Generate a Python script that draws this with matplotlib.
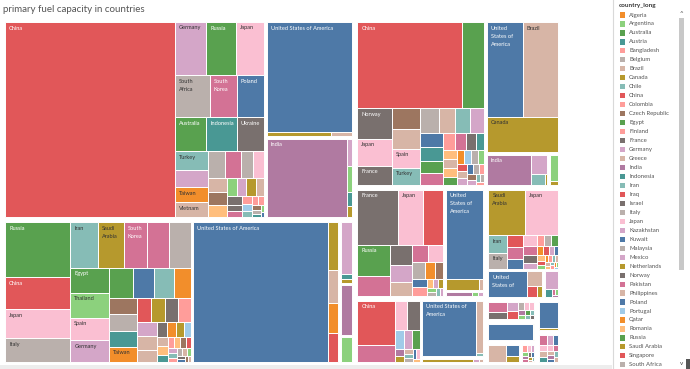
import matplotlib
matplotlib.use("Agg")
import matplotlib.pyplot as plt
from matplotlib.patches import Rectangle
from matplotlib.font_manager import FontProperties

plt.rcParams['font.family'] = ['Lato', 'DejaVu Sans']

# ---------------- data (capacity) ----------------
coal_main_countries = ["China", "Germany", "Russia", "Japan", "South Africa", "South Korea", "Poland",
                       "Australia", "Indonesia", "Ukraine", "Turkey", "Kazakhstan", "Taiwan", "Vietnam",
                       "Malaysia", "Pakistan", "Italy", "Spain", "Philippines", "Czech Republic", "Romania",
                       "Thailand", "Mexico", "Netherlands", "Greece", "Israel", "Zimbabwe", "United Kingdom",
                       "Bangladesh", "Portugal", "Chile", "Colombia", "Finland", "Uzbekistan", "Belgium",
                       "Austria", "Argentina", "Sri Lanka"]
coal_main_values = [32800, 1643, 1537, 1484, 1428, 1134, 1130, 1050, 1040, 918, 608, 544, 482, 480,
                    459, 432, 324, 297, 270, 250, 240, 170, 168, 165, 150, 120, 95, 85, 75, 65, 60, 55,
                    50, 45, 35, 30, 25, 17]
coal_us_countries = ["United States of America", "Canada", "Brazil"]
coal_us_values = [9592, 264, 88]
coal_india_countries = ["India", "Germany", "Argentina", "Indonesia", "Netherlands"]
coal_india_values = [6480, 150, 140, 80, 60]

gas_main_countries = ["Russia", "China", "Japan", "Italy", "Iran", "Saudi Arabia", "South Korea", "Pakistan",
                      "Malaysia", "Egypt", "Thailand", "Spain", "Germany", "Australia", "Kuwait", "Turkey",
                      "Algeria", "Uzbekistan", "South Africa", "Indonesia", "Taiwan", "Iraq", "Netherlands",
                      "Israel", "Bangladesh", "Mexico", "Philippines", "Vietnam", "Ukraine", "Qatar",
                      "Turkmenistan", "Portugal", "Greece", "Romania", "Austria", "Colombia", "Syria",
                      "Switzerland", "Singapore", "Kazakhstan", "Chile", "Finland", "Belgium",
                      "Tajikistan", "Argentina", "Norway", "Poland", "Czech Republic", "Sweden"]
gas_main_values = [3600, 2100, 1885, 1560, 1260, 1170, 1080, 995, 990, 985, 980, 880, 850, 720, 630, 600,
                   510, 460, 450, 440, 430, 330, 325, 320, 300, 285, 266, 247, 160, 144, 117, 110, 100,
                   90, 80, 70, 60, 60, 55, 50, 45, 40, 40, 35, 30, 25, 20, 20, 15]
gas_us_countries = ["United States of America", "Canada", "Brazil", "Algeria", "Venezuela"]
gas_us_values = [19000, 480, 320, 300, 290]
gas_mexico_countries = ["Mexico", "Indonesia", "Netherlands"]
gas_mexico_values = [750, 64, 56]
gas_india_countries = ["India"]
gas_india_values = [720]
gas_argentina_countries = ["Argentina"]
gas_argentina_values = [375]

hydro_main_countries = ["China", "Russia", "Norway", "Japan", "France", "Switzerland", "Tajikistan", "Spain",
                        "Turkey", "Malaysia", "Vietnam", "Iran", "Mexico", "Sri Lanka", "Austria",
                        "Australia", "Pakistan", "Colombia", "South Korea", "Ukraine", "Indonesia", "Syria",
                        "Philippines", "Romania", "Egypt", "Taiwan", "Portugal", "Italy", "Argentina",
                        "Iraq", "Greece", "Germany", "Poland", "South Africa", "Finland",
                        "Czech Republic", "Kazakhstan", "Chile", "Belgium", "Bangladesh"]
hydro_main_values = [9100, 1900, 1056, 924, 660, 594, 567, 540, 480, 475, 425, 375, 350, 330, 329, 286,
                     264, 208, 176, 160, 144, 130, 125, 120, 115, 110, 100, 95, 90, 80, 75, 70, 65, 60,
                     55, 45, 40, 35, 30, 25]
hydro_us_countries = ["United States of America", "Brazil", "Canada"]
hydro_us_values = [3480, 3450, 2600]
hydro_india_countries = ["India", "Germany", "Chile", "Netherlands"]
hydro_india_values = [1450, 360, 175, 25]
hydro_other_countries = ["Argentina", "Turkmenistan"]
hydro_other_values = [290, 45]

nuclear_main_countries = ["France", "Japan", "China", "Russia", "South Korea", "Ukraine", "Germany",
                          "Sweden", "Pakistan", "Spain", "Belgium", "Taiwan", "Czech Republic",
                          "United Arab Emirates", "Finland", "Romania", "Mexico", "Netherlands",
                          "Argentina", "South Africa", "Iran", "Kazakhstan"]
nuclear_main_values = [2300, 1450, 1160, 1056, 672, 462, 396, 300, 285, 280, 230, 170, 140, 130, 128,
                       60, 50, 45, 40, 35, 30, 25]
nuclear_us_countries = ["United States of America", "Canada", "Brazil"]
nuclear_us_values = [3650, 385, 55]
nuclear_india_countries = ["India", "Argentina", "Mexico"]
nuclear_india_values = [160, 36, 30]

wind_main_countries = ["China", "United Kingdom", "Spain", "France", "Portugal", "Germany", "Australia",
                       "India", "Netherlands", "Sweden", "Turkey", "Italy", "Poland", "Japan", "Romania"]
wind_main_values = [1832, 680, 397, 393, 177, 166, 158, 63, 57, 51, 44, 38, 36, 32, 25]
wind_us_countries = ["United States of America", "Brazil", "Chile"]
wind_us_values = [3292, 413, 24]
wind_other_countries = ["Canada", "Mexico", "Philippines"]
wind_other_values = [305, 36, 30]

oil_main_countries = ["Saudi Arabia", "Japan", "Iran", "Italy", "Iraq", "Pakistan", "Kuwait", "Spain",
                      "South Korea", "Israel", "Mexico", "Bangladesh", "Malaysia", "Egypt", "Algeria",
                      "Singapore", "Kazakhstan", "Poland", "Syria", "Venezuela", "Argentina", "Qatar",
                      "Colombia", "Chile", "Greece", "Philippines", "Romania", "Turkey", "Finland",
                      "Taiwan", "Thailand", "Portugal"]
oil_main_values = [1770, 1610, 337, 318, 216, 200, 177, 172, 137, 112, 92, 80, 79, 73, 62, 57, 52, 47,
                   42, 36, 31, 26, 26, 21, 21, 21, 16, 16, 16, 10, 10, 10]
oil_us_countries = ["United States of America", "Brazil", "Venezuela", "Canada"]
oil_us_values = [1145, 248, 122, 68]
oil_other_countries = ["Mexico", "Indonesia", "Pakistan", "Argentina", "India"]
oil_other_values = [312, 71, 23, 21, 19]

solar_countries = ["United Kingdom", "Israel", "Germany", "China", "Italy", "Japan", "Spain", "India",
                   "Thailand", "Australia", "Turkey", "Chile", "France"]
solar_values = [245, 177, 140, 114, 66, 60, 56, 47, 37, 32, 28, 23, 19]
geothermal_countries = ["United States of America", "Canada"]
geothermal_values = [1015, 25]
biomass_us_countries = ["Brazil", "United States of America", "Canada"]
biomass_us_values = [415, 200, 105]
biomass_other_countries = ["Bangladesh", "Japan", "Kazakhstan", "Thailand", "India", "Pakistan", "Israel",
                           "Kuwait", "Netherlands", "Greece", "Chile", "Taiwan"]
biomass_other_values = [48, 42, 38, 34, 32, 29, 25, 21, 18, 15, 10, 4]
other_countries = ["United States of America", "Canada"]
other_values = [700, 40]
waste_countries = ["South Korea", "Mexico", "United Arab Emirates", "Japan", "Philippines", "Indonesia",
                   "Spain", "Pakistan", "Brazil", "India", "Kuwait", "Chile", "Greece"]
waste_values = [106, 86, 77, 69, 63, 58, 54, 48, 42, 38, 35, 29, 25]

fuel_names = ["Coal", "Gas", "Hydro", "Nuclear", "Wind", "Oil", "Solar", "Geothermal", "Biomass",
              "Other", "Waste"]
fuel_groups = [
    [(coal_main_countries, coal_main_values), (coal_us_countries, coal_us_values),
     (coal_india_countries, coal_india_values)],
    [(gas_main_countries, gas_main_values), (gas_us_countries, gas_us_values),
     (gas_mexico_countries, gas_mexico_values), (gas_india_countries, gas_india_values),
     (gas_argentina_countries, gas_argentina_values)],
    [(hydro_main_countries, hydro_main_values), (hydro_us_countries, hydro_us_values),
     (hydro_india_countries, hydro_india_values), (hydro_other_countries, hydro_other_values)],
    [(nuclear_main_countries, nuclear_main_values), (nuclear_us_countries, nuclear_us_values),
     (nuclear_india_countries, nuclear_india_values)],
    [(wind_main_countries, wind_main_values), (wind_us_countries, wind_us_values),
     (wind_other_countries, wind_other_values)],
    [(oil_main_countries, oil_main_values), (oil_us_countries, oil_us_values),
     (oil_other_countries, oil_other_values)],
    [(solar_countries, solar_values)],
    [(geothermal_countries, geothermal_values)],
    [(biomass_us_countries, biomass_us_values), (biomass_other_countries, biomass_other_values)],
    [(other_countries, other_values)],
    [(waste_countries, waste_values)],
]

legend_countries = ["Algeria", "Argentina", "Australia", "Austria", "Bangladesh", "Belgium", "Brazil",
                    "Canada", "Chile", "China", "Colombia", "Czech Republic", "Egypt", "Finland", "France",
                    "Germany", "Greece", "India", "Indonesia", "Iran", "Iraq", "Israel", "Italy", "Japan",
                    "Kazakhstan", "Kuwait", "Malaysia", "Mexico", "Netherlands", "Norway", "Pakistan",
                    "Philippines", "Poland", "Portugal", "Qatar", "Romania", "Russia", "Saudi Arabia",
                    "Singapore", "South Africa"]

# ---------------- colours (Tableau 20) ----------------
BLUE, LBLUE, ORANGE, LORANGE = "#4E79A7", "#A0CBE8", "#F28E2B", "#FFBE7D"
GREEN, LGREEN, OLIVE, TEAL = "#59A14F", "#8CD17D", "#B6992D", "#499894"
LTEAL, RED, LRED, DGREY = "#86BCB6", "#E15759", "#FF9D9A", "#79706E"
GREY, MAGENTA, PINK, PURPLE = "#BAB0AC", "#D37295", "#FABFD2", "#B07AA1"
LILAC, BROWN, TAN = "#D4A6C8", "#9D7660", "#D7B5A6"
country_color = {
    "Algeria": ORANGE, "Argentina": LGREEN, "Australia": GREEN, "Austria": TEAL, "Bangladesh": LRED,
    "Belgium": GREY, "Brazil": TAN, "Canada": OLIVE, "Chile": LTEAL, "China": RED, "Colombia": LRED,
    "Czech Republic": BROWN, "Egypt": GREEN, "Finland": LRED, "France": DGREY, "Germany": LILAC,
    "Greece": TAN, "India": PURPLE, "Indonesia": TEAL, "Iran": LTEAL, "Iraq": RED, "Israel": DGREY,
    "Italy": GREY, "Japan": PINK, "Kazakhstan": LILAC, "Kuwait": BLUE, "Malaysia": GREY, "Mexico": LILAC,
    "Netherlands": OLIVE, "Norway": DGREY, "Pakistan": MAGENTA, "Philippines": TAN, "Poland": BLUE,
    "Portugal": LBLUE, "Qatar": ORANGE, "Romania": LORANGE, "Russia": GREEN, "Saudi Arabia": OLIVE,
    "Singapore": RED, "South Africa": GREY, "South Korea": MAGENTA, "Spain": PINK, "Sri Lanka": BLUE,
    "Sweden": TAN, "Switzerland": BROWN, "Syria": LORANGE, "Taiwan": ORANGE, "Tajikistan": TAN,
    "Thailand": LGREEN, "Turkey": LTEAL, "Turkmenistan": OLIVE, "Ukraine": DGREY,
    "United Arab Emirates": BLUE, "United Kingdom": MAGENTA, "United States of America": BLUE,
    "Uzbekistan": BROWN, "Venezuela": RED, "Vietnam": TAN, "Zimbabwe": DGREY,
}

# ---------------- layout helpers ----------------
PHI = (1 + 5 ** 0.5) / 2


def squarify(values, x0, y0, x1, y1, ratio=PHI):
    """Squarified treemap (golden-ratio variant). values sorted descending."""
    n = len(values)
    rects = [None] * n
    value = float(sum(values))
    i0 = i1 = 0
    while i0 < n:
        dx, dy = x1 - x0, y1 - y0
        sum_v = float(values[i1])
        i1 += 1
        min_v = max_v = sum_v
        alpha = max(dy / dx, dx / dy) / (value * ratio)
        beta = sum_v * sum_v * alpha
        min_ratio = max(max_v / beta, beta / min_v)
        while i1 < n:
            v = float(values[i1])
            s = sum_v + v
            mn, mx = min(min_v, v), max(max_v, v)
            beta = s * s * alpha
            new_ratio = max(mx / beta, beta / mn)
            if new_ratio > min_ratio:
                break
            sum_v, min_v, max_v, min_ratio = s, mn, mx, new_ratio
            i1 += 1
        if dx < dy:
            h = dy * sum_v / value
            xx = x0
            for k in range(i0, i1):
                w = dx * values[k] / sum_v
                rects[k] = (xx, y0, w, h)
                xx += w
            y0 += h
        else:
            w = dx * sum_v / value
            yy = y0
            for k in range(i0, i1):
                h = dy * values[k] / sum_v
                rects[k] = (x0, yy, w, h)
                yy += h
            x0 += w
        value -= sum_v
        i0 = i1
    return rects


def shrink(r, p):
    x, y, w, h = r
    return (x + p, y + p, max(w - 2 * p, 0.1), max(h - 2 * p, 0.1))


def luminance(hexc):
    c = [int(hexc[i:i + 2], 16) / 255 for i in (1, 3, 5)]
    c = [v / 12.92 if v <= 0.04045 else ((v + 0.055) / 1.055) ** 2.4 for v in c]
    return 0.2126 * c[0] + 0.7152 * c[1] + 0.0722 * c[2]


# ---------------- figure ----------------
W, H = 690, 369
fig = plt.figure(figsize=(W / 100, H / 100), dpi=100)
ax = fig.add_axes([0, 0, 1, 1])
ax.set_xlim(0, W)
ax.set_ylim(H, 0)
ax.axis("off")
renderer = fig.canvas.get_renderer()

LABEL_FS = 4.1
label_prop = FontProperties(family=['Lato', 'DejaVu Sans'], size=LABEL_FS)


def text_w(s):
    w, h, d = renderer.get_text_width_height_descent(s, label_prop, ismath=False)
    return w


def draw_label(name, r, color):
    x, y, w, h = r
    pad_l, pad_r, pad_top, line_h, fit_h = 4.0, 2.5, 3.5, 8.0, 9.0
    avail = w - pad_l - pad_r
    lines, cur = [], ""
    for wd in name.split():
        if text_w(wd) > avail:
            return
        cand = wd if not cur else cur + " " + wd
        if text_w(cand) <= avail:
            cur = cand
        else:
            lines.append(cur)
            cur = wd
    lines.append(cur)
    nmax = int((h - 2.0) // fit_h) if h >= 13 else 0
    if nmax < 1 or (nmax < len(lines) and nmax < 2):
        return
    tc = "white" if luminance(color) < 0.31 else "#333333"
    for i, ln in enumerate(lines[:nmax]):
        ax.text(x + pad_l, y + pad_top + i * line_h, ln, color=tc,
                ha="left", va="top", fontproperties=label_prop)


# outer drawing region of the treemap (pixels)
X0, Y0, X1, Y1 = 2.5, 19.5, 560.5, 364.5
FUEL_GAP, SUB_GAP = 2.5, 2.5

fuel_totals = [sum(sum(v) for _, v in groups) for groups in fuel_groups]
forder = sorted(range(len(fuel_groups)), key=lambda i: -fuel_totals[i])
frects = squarify([fuel_totals[i] for i in forder], X0, Y0, X1, Y1)
for fi, fr in zip(forder, frects):
    fx, fy, fw, fh = shrink(fr, FUEL_GAP / 2)
    groups = fuel_groups[fi]
    gtot = [sum(v) for _, v in groups]
    gorder = sorted(range(len(groups)), key=lambda j: -gtot[j])
    grects = squarify([gtot[j] for j in gorder], fx, fy, fx + fw, fy + fh)
    for gj, gr in zip(gorder, grects):
        sx, sy, sw, sh = shrink(gr, SUB_GAP / 2)
        countries, values = groups[gj]
        lorder = sorted(range(len(values)), key=lambda k: -values[k])
        lrects = squarify([values[k] for k in lorder], sx, sy, sx + sw, sy + sh)
        for k, lr in zip(lorder, lrects):
            col = country_color[countries[k]]
            ax.add_patch(Rectangle((lr[0], lr[1]), lr[2], lr[3], facecolor=col,
                                   edgecolor="white", linewidth=0.7))
            draw_label(countries[k], lr, col)

# title
ax.text(3, 9, "primary fuel capacity in countries", fontsize=7.0, color="#555555",
        ha="left", va="center")

# bottom strip
ax.add_patch(Rectangle((0, 364.5), 612, 4.5, facecolor="#EDEDED", edgecolor="none"))

# legend panel
ax.plot([612.5, 612.5], [0, H], color="#D9D9D9", lw=0.8)
ax.text(619, 5, "country_long", fontsize=4.6, color="#333333", ha="left", va="center",
        fontweight="bold")
row0, row_h = 15.0, 8.97
for i, c in enumerate(legend_countries):
    yc = row0 + i * row_h
    ax.add_patch(Rectangle((619.5, yc - 2.6), 5.2, 5.2, facecolor=country_color[c], edgecolor="none"))
    ax.text(629, yc, c, fontsize=4.3, color="#555555", ha="left", va="center")
ax.add_patch(Rectangle((679, 18), 5, 252, facecolor="#C8C8C8", edgecolor="none"))
ax.text(681.5, 13.5, "^", fontsize=4.5, color="#444444", ha="center", va="center")
ax.text(681.5, 363.5, "v", fontsize=4.5, color="#444444", ha="center", va="center")
ax.add_patch(Rectangle((686, 359), 4, 10, facecolor="#555555", edgecolor="none"))

fig.savefig("out.png", dpi=100, facecolor="white")
